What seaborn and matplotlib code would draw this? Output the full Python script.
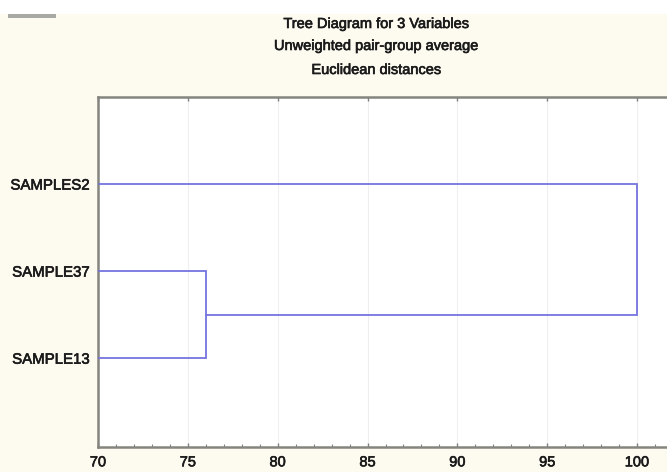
import matplotlib
matplotlib.use("Agg")
import matplotlib.pyplot as plt
import matplotlib.patheffects as pe
import seaborn as sns
import pandas as pd
from matplotlib.ticker import MultipleLocator

# ---- data ----
leaf_labels = ["SAMPLES2", "SAMPLE37", "SAMPLE13"]
leaf_pos = [1, 2, 3]
# merges: (left member, right member, linkage distance)
merge_a = ["SAMPLE37", "SAMPLE13"]
merge_a_dist = 76.0
merge_b_dist = 100.0
x_ticks = [70, 75, 80, 85, 90, 95, 100]
title_lines = ["Tree Diagram for 3 Variables",
               "Unweighted pair-group average",
               "Euclidean distances"]

sns.set_theme(style="white")
plt.rcParams["font.family"] = ["Liberation Sans", "DejaVu Sans"]

W, H = 667, 472
fig = plt.figure(figsize=(W / 100, H / 100), dpi=100)
fig.patch.set_facecolor("#fdfaf0")
# white strip at very top
fig.patches.append(plt.Rectangle((0, 1 - 14 / H), 1, 14 / H, transform=fig.transFigure,
                                 facecolor="white", edgecolor="none", zorder=0))
fig.patches.append(plt.Rectangle((8 / W, 1 - 18 / H), 48 / W, 4 / H, transform=fig.transFigure,
                                 facecolor="#a8a8a4", edgecolor="none", zorder=1))

ax = fig.add_axes([98 / W, 25 / H, 575 / W, 350 / H])
ax.set_facecolor("white")

pos = dict(zip(leaf_labels, leaf_pos))
line_color = "#7474de"
start = 0.0

# build segments
segs = []
ya, yb = pos[merge_a[0]], pos[merge_a[1]]
segs.append(pd.DataFrame({"x": [start, merge_a_dist, merge_a_dist, start], "y": [ya, ya, yb, yb]}))
ymid = (ya + yb) / 2
other = [l for l in leaf_labels if l not in merge_a][0]
yo = pos[other]
segs.append(pd.DataFrame({"x": [merge_a_dist, merge_b_dist, merge_b_dist, start], "y": [ymid, ymid, yo, yo]}))
for s in segs:
    ax.plot(s["x"], s["y"], color=line_color, lw=1.3, solid_joinstyle="miter", zorder=3)

ax.set_xlim(70, 102)
ax.set_ylim(4.02, 0)
ax.set_yticks(leaf_pos)
ax.set_yticklabels(leaf_labels)
ax.set_xticks(x_ticks)
ax.set_xticklabels([str(t) for t in x_ticks])
ax.xaxis.set_minor_locator(MultipleLocator(1))

ax.grid(axis="x", which="major", color="#efefef", lw=0.8)
ax.set_axisbelow(True)

for side in ["left", "bottom", "top", "right"]:
    ax.spines[side].set_color("#85857f")
    ax.spines[side].set_linewidth(1.8)

ax.tick_params(axis="x", which="major", direction="in", length=3, width=1, color="#808080",
               top=True, bottom=True, labelsize=10.5, labelcolor="#1a1a1a", pad=6)
ax.tick_params(axis="x", which="minor", direction="in", length=2, width=0.8, color="#808080",
               top=False, bottom=True)
ax.tick_params(axis="y", which="both", left=False, right=False, length=0, labelsize=10.8,
               labelcolor="#1a1a1a", pad=6)

stroke = [pe.withStroke(linewidth=0.45, foreground="#1a1a1a")]
for lab in ax.get_xticklabels() + ax.get_yticklabels():
    lab.set_path_effects(stroke)

ys = [24, 46, 70]
for t, y in zip(title_lines, ys):
    fig.text(377 / W, 1 - y / H, t, ha="center", va="center", fontsize=10.5, color="#1a1a1a",
             path_effects=stroke)

fig.savefig("out.png", dpi=100, facecolor=fig.get_facecolor())
